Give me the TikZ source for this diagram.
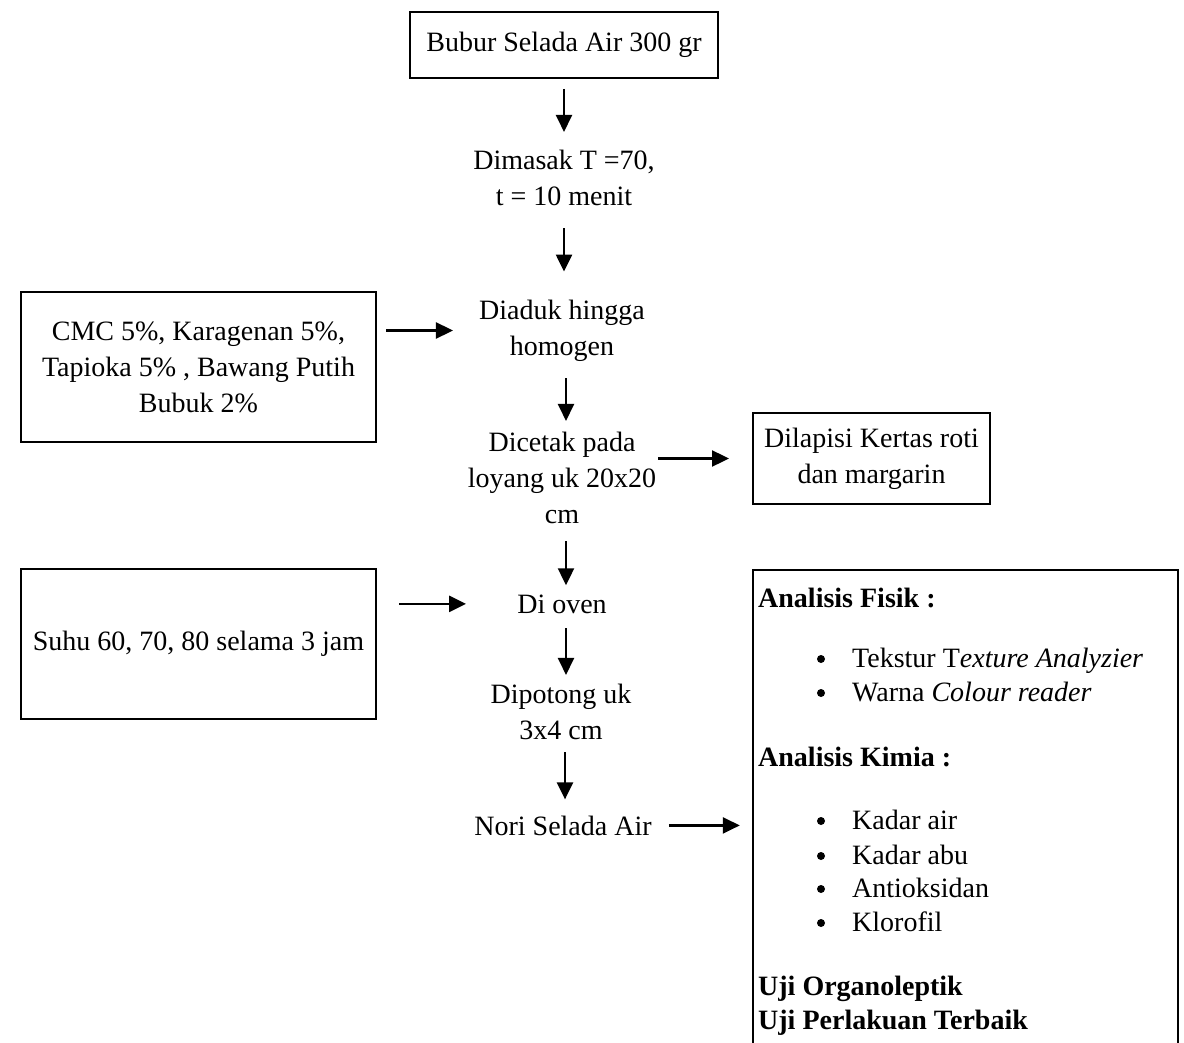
\documentclass[tikz,border=0pt]{standalone}
\usepackage{fontspec}
\setmainfont{Liberation Serif}
\usetikzlibrary{arrows.meta}
\begin{document}
\begin{tikzpicture}[x=1pt,y=-1pt,
  every node/.style={font=\fontsize{28}{36}\selectfont, inner sep=0pt},
  box/.style={draw, line width=2pt, align=center},
  lbl/.style={align=center},
  boxline/.style={line width=2pt},
  arr/.style={line width=2.4pt, -{Triangle[length=17pt,width=16pt]}},
  itm/.style={anchor=base west},
  bul/.style={circle, fill, minimum size=8pt},
  hdr/.style={anchor=base west, font=\fontsize{28}{36}\selectfont\bfseries},
  ]
\useasboundingbox (0,0) rectangle (1184,1043);

% main column
\node[box, minimum width=308pt, minimum height=66pt] (bubur) at (564,45) {Bubur Selada Air 300 gr};
\node[lbl] (dimasak) at (564,178) {Dimasak T =70,\\t = 10 menit};
\node[lbl] (diaduk) at (562,330.5) {Diaduk hingga\\homogen};
\node[lbl] (dicetak) at (562,478) {Dicetak pada\\loyang uk 20x20\\cm};
\node[lbl, anchor=base] (oven) at (562,613) {Di oven};
\node[lbl] (dipotong) at (561,712) {Dipotong uk\\3x4 cm};
\node[lbl, anchor=base] (nori) at (563,835) {Nori Selada Air};

% side boxes
\node[box, minimum width=355pt, minimum height=150pt] (cmc) at (198.5,367) {CMC 5\%, Karagenan 5\%,\\Tapioka 5\% , Bawang Putih\\Bubuk 2\%};
\node[box, minimum width=237pt, minimum height=91pt] (dilapisi) at (871.5,458.5) {Dilapisi Kertas roti\\dan margarin};
\node[box, minimum width=355pt, minimum height=150pt] (suhu) at (198.5,644) {Suhu 60, 70, 80 selama 3 jam};

% analysis box (open at the bottom)
\node[minimum width=425pt, minimum height=490pt] (analysis) at (965.5,815) {};
\draw[boxline] (analysis.south west) -- (analysis.north west) -- (analysis.north east) -- (analysis.south east);

\node[hdr] (fisik) at (758,607) {Analisis Fisik :};
\node[bul] (b1) at (821,659) {};
\node[itm] (tekstur) at (852,667) {Tekstur T\textit{exture Analyzier}};
\node[bul] (b2) at (821,693) {};
\node[itm] (warna) at (852,701) {Warna \textit{Colour reader}};
\node[hdr] (kimia) at (758,766) {Analisis Kimia :};
\node[bul] (b3) at (821,821) {};
\node[itm] (air) at (852,829) {Kadar air};
\node[bul] (b4) at (821,856) {};
\node[itm] (abu) at (852,864) {Kadar abu};
\node[bul] (b5) at (821,889) {};
\node[itm] (antiok) at (852,897) {Antioksidan};
\node[bul] (b6) at (821,923) {};
\node[itm] (klorofil) at (852,931) {Klorofil};
\node[hdr] (organo) at (758,995) {Uji Organoleptik};
\node[hdr] (terbaik) at (758,1029) {Uji Perlakuan Terbaik};

% vertical arrows
\draw[arr, shorten <=10pt, shorten >=18pt] (bubur.south) -- (bubur.south |- dimasak.north);
\draw[arr, shorten <=22pt, shorten >=28pt] (dimasak.south) -- (dimasak.south |- diaduk.north);
\draw[arr, shorten <=17pt, shorten >=11pt] (diaduk.south -| dimasak.south) ++(2,0) coordinate (a3s) -- (a3s |- dicetak.north);
\draw[arr, shorten <=17pt, shorten >=9pt] (dicetak.south -| a3s) -- (a3s |- oven.north);
\draw[arr, shorten <=15pt, shorten >=9pt] (oven.south -| a3s) -- (a3s |- dipotong.north);
\draw[arr, shorten <=12pt, shorten >=16pt] (dipotong.south -| dimasak.south) ++(1,0) coordinate (a6s) -- (a6s |- nori.north);

% horizontal arrows
\draw[arr, shorten <=9pt, shorten >=26pt] (cmc.east |- diaduk.west) -- (diaduk.west);
\draw[arr, shorten <=2pt, shorten >=23pt] (dicetak.east |- dilapisi.west) -- (dilapisi.west);
\draw[arr, shorten <=22pt, shorten >=51pt] (suhu.east |- oven.west) -- (oven.west);
\draw[arr, shorten <=17pt, shorten >=13pt] (nori.east) -- (analysis.west |- nori.east);
\end{tikzpicture}
\end{document}
